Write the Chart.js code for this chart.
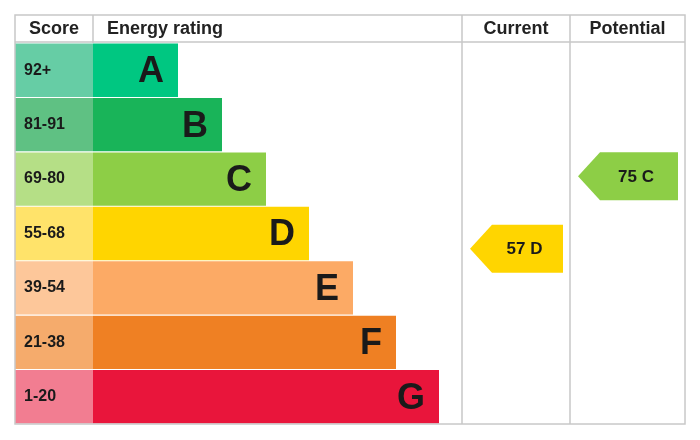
<!DOCTYPE html>
<html>
<head>
<meta charset="utf-8">
<script src="https://cdn.jsdelivr.net/npm/chart.js@4/dist/chart.umd.min.js"></script>
<style>
  html, body { margin: 0; background: #fff; }
  #wrap { width: 700px; height: 440px; }
</style>
</head>
<body>
<div id="wrap"><canvas id="epc"></canvas></div>
<script>
const bands = ["A", "B", "C", "D", "E", "F", "G"];
const scoreRanges = ["92+", "81-91", "69-80", "55-68", "39-54", "21-38", "1-20"];
const barLengths = [85, 129, 173, 216, 260, 303, 346];
const bandColors = ["#00c781", "#19b459", "#8dce46", "#ffd500", "#fcaa65", "#ef8023", "#e9153b"];
const scoreColors = ["#66cda5", "#5fc183", "#b5df86", "#ffe36a", "#fdc79a", "#f5ab6c", "#f27d91"];
const current = { score: 57, band: "D", offset: 0.28 };
const potential = { score: 75, band: "C", offset: -0.05 };

const scoreWidth = 78;
const columns = { current: [447, 555], potential: [555, 670] };
const font = "'Liberation Sans', Arial, sans-serif";

const tablePlugin = {
    id: "epcTable",
    afterDatasetsDraw(chart) {
        const { ctx, scales: { x, y }, chartArea: area } = chart;
        ctx.save();
        // text inside bars
        bands.forEach((band, i) => {
            const cy = y.getPixelForValue(i);
            ctx.fillStyle = "#1a1a1a";
            ctx.font = `bold 16px ${font}`;
            ctx.textAlign = "left";
            ctx.textBaseline = "middle";
            ctx.fillText(scoreRanges[i], x.getPixelForValue(0) + 9, cy);
            ctx.font = `bold 36px ${font}`;
            ctx.textAlign = "right";
            ctx.fillText(band, x.getPixelForValue(scoreWidth + barLengths[i]) - 14, cy + 2);
        });
        // borders
        const top = 15;
        ctx.strokeStyle = "#c8c8c8";
        ctx.lineWidth = 1.5;
        ctx.strokeRect(area.left, top, area.right - area.left, area.bottom - top);
        ctx.beginPath();
        ctx.moveTo(area.left, area.top - 1); ctx.lineTo(area.right, area.top - 1);
        const x1 = x.getPixelForValue(scoreWidth);
        ctx.moveTo(x1, top); ctx.lineTo(x1, area.top);
        [columns.current[0], columns.potential[0]].forEach(v => {
            const px = x.getPixelForValue(v);
            ctx.moveTo(px, top); ctx.lineTo(px, area.bottom);
        });
        ctx.stroke();
        // headers
        ctx.fillStyle = "#222";
        ctx.font = `bold 18px ${font}`;
        ctx.textBaseline = "middle";
        const hy = (top + area.top) / 2;
        ctx.textAlign = "center";
        ctx.fillText("Score", (area.left + x1) / 2, hy);
        ctx.textAlign = "left";
        ctx.fillText("Energy rating", x1 + 14, hy);
        ctx.textAlign = "center";
        ctx.fillText("Current", x.getPixelForValue((columns.current[0] + columns.current[1]) / 2), hy);
        ctx.fillText("Potential", x.getPixelForValue((columns.potential[0] + columns.potential[1]) / 2), hy);
        // arrows
        const drawArrow = (rating, col) => {
            const i = bands.indexOf(rating.band);
            const cy = y.getPixelForValue(i + rating.offset);
            const left = x.getPixelForValue(col[0] + 8);
            const right = x.getPixelForValue(col[1] - 7);
            const h = 48, tip = 22;
            ctx.fillStyle = bandColors[i];
            ctx.beginPath();
            ctx.moveTo(left, cy);
            ctx.lineTo(left + tip, cy - h / 2);
            ctx.lineTo(right, cy - h / 2);
            ctx.lineTo(right, cy + h / 2);
            ctx.lineTo(left + tip, cy + h / 2);
            ctx.closePath();
            ctx.fill();
            ctx.fillStyle = "#1a1a1a";
            ctx.font = `bold 17px ${font}`;
            ctx.textAlign = "center";
            ctx.fillText(`${rating.score} ${rating.band}`, (left + tip + right) / 2 - 3, cy + 1);
        };
        drawArrow(current, columns.current);
        drawArrow(potential, columns.potential);
        ctx.restore();
    }
};

new Chart(document.getElementById("epc"), {
    type: "bar",
    data: {
        labels: bands,
        datasets: [{
            data: bands.map(() => [0, scoreWidth]),
            backgroundColor: scoreColors,
            borderWidth: 0,
            grouped: false,
            barPercentage: 1,
            categoryPercentage: 0.98
        }, {
            data: barLengths.map(len => [scoreWidth, scoreWidth + len]),
            backgroundColor: bandColors,
            borderWidth: 0,
            grouped: false,
            barPercentage: 1,
            categoryPercentage: 0.98
        }]
    },
    options: {
        indexAxis: "y",
        responsive: true,
        maintainAspectRatio: false,
        animation: false,
        layout: { padding: { left: 15, right: 15, top: 43, bottom: 16 } },
        plugins: { legend: { display: false }, tooltip: { enabled: false } },
        scales: {
            x: { type: "linear", min: 0, max: 670, display: false },
            y: { display: false }
        }
    },
    plugins: [tablePlugin]
});
</script>
</body>
</html>
